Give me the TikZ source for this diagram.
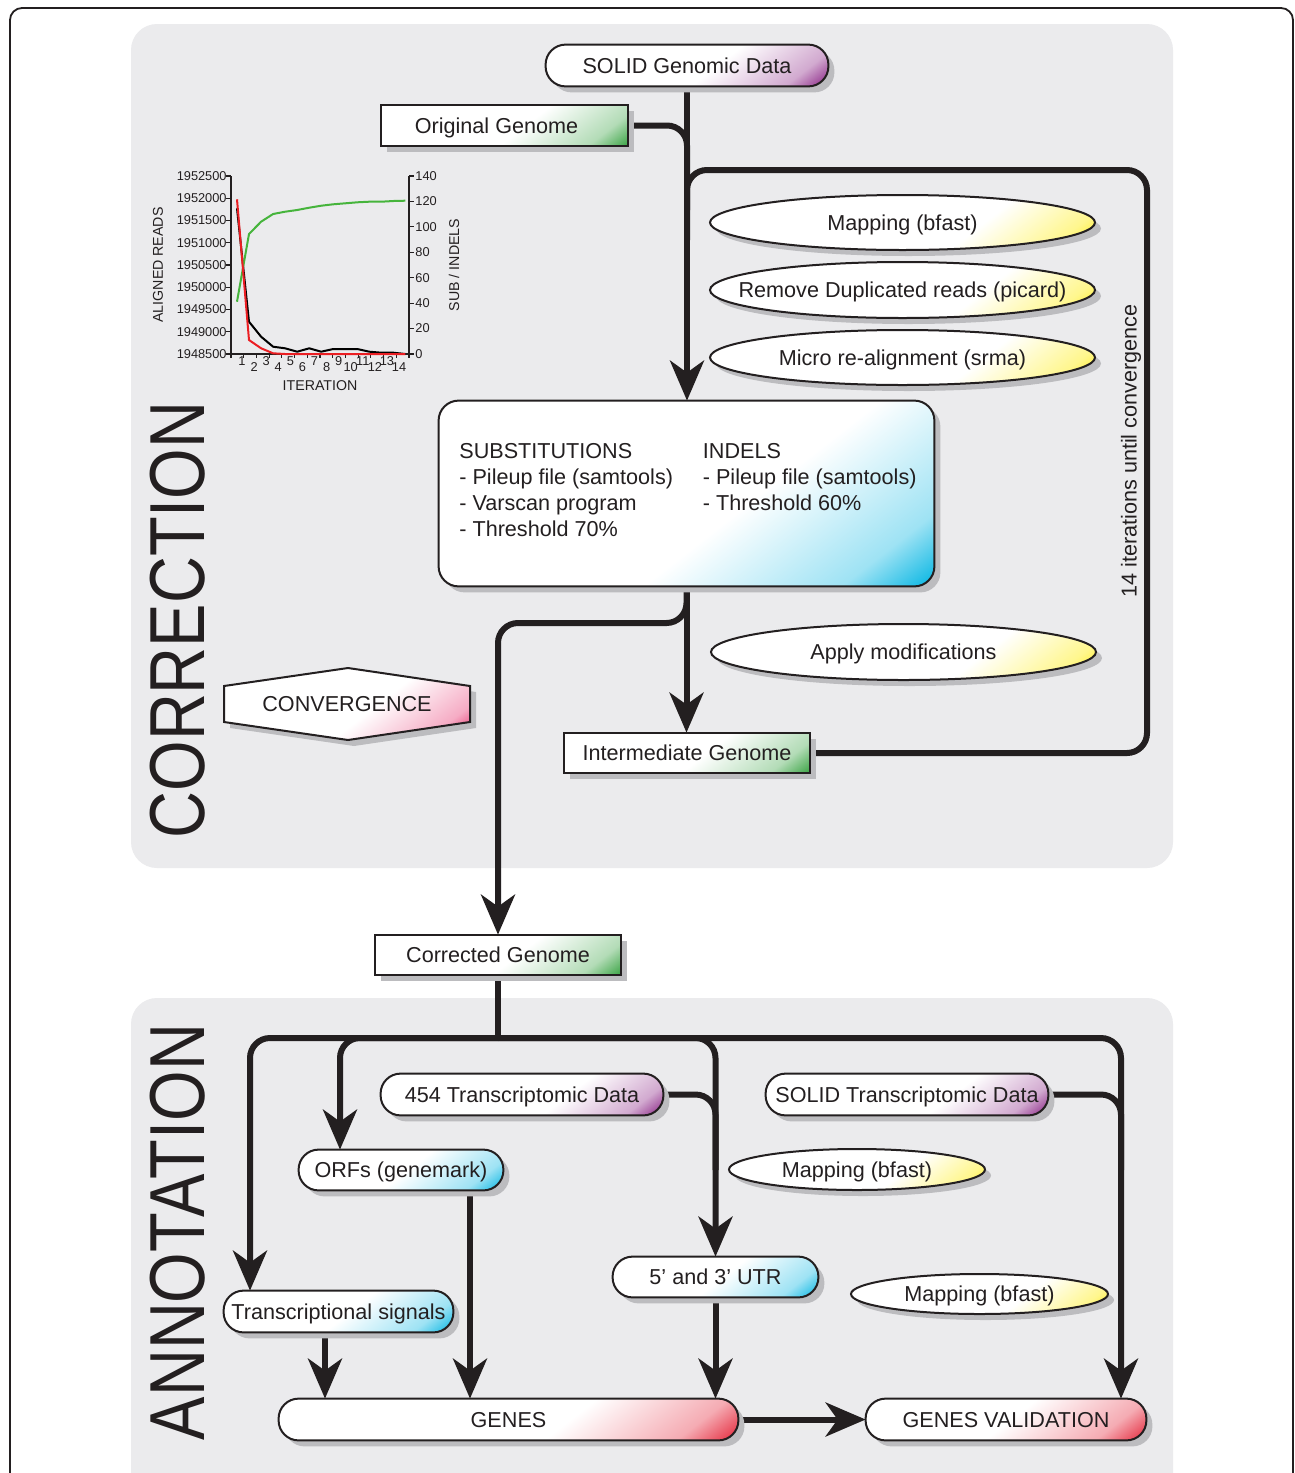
\documentclass[tikz,border=0pt]{standalone}
\usepackage{fontspec}
\setmainfont{Liberation Sans}
\usetikzlibrary{shapes.geometric,shadows,arrows.meta,calc}
\pgfdeclarelayer{back}
\pgfdeclarelayer{mid}
\pgfdeclarelayer{shapes}
\pgfsetlayers{back,mid,shapes,main}

\definecolor{panel}{RGB}{235,235,237}
\definecolor{ink}{RGB}{35,31,32}
\definecolor{shadowc}{RGB}{188,188,191}
\definecolor{cPurple}{RGB}{135,30,130}
\definecolor{cGreen}{RGB}{55,162,65}
\definecolor{cCyan}{RGB}{0,180,226}
\definecolor{cYellow}{RGB}{255,236,0}
\definecolor{cPink}{RGB}{230,35,100}
\definecolor{cRed}{RGB}{228,35,55}
\definecolor{cLineRed}{RGB}{235,30,35}
\definecolor{cLineGreen}{RGB}{70,180,60}

\pgfdeclarehorizontalshading{fadePurple}{100bp}{color(0bp)=(white); color(37.5bp)=(white); color(46bp)=(cPurple!38!white); color(50bp)=(cPurple); color(100bp)=(cPurple)}
\pgfdeclarehorizontalshading{fadeGreen}{100bp}{color(0bp)=(white); color(37.5bp)=(white); color(46bp)=(cGreen!38!white); color(50bp)=(cGreen); color(100bp)=(cGreen)}
\pgfdeclarehorizontalshading{fadeCyan}{100bp}{color(0bp)=(white); color(37.5bp)=(white); color(46bp)=(cCyan!38!white); color(50bp)=(cCyan); color(100bp)=(cCyan)}
\pgfdeclarehorizontalshading{fadeYellow}{100bp}{color(0bp)=(white); color(37.5bp)=(white); color(46bp)=(cYellow!45!white); color(50bp)=(cYellow); color(100bp)=(cYellow)}
\pgfdeclarehorizontalshading{fadePink}{100bp}{color(0bp)=(white); color(37.5bp)=(white); color(46bp)=(cPink!38!white); color(50bp)=(cPink); color(100bp)=(cPink)}
\pgfdeclarehorizontalshading{fadeRed}{100bp}{color(0bp)=(white); color(37.5bp)=(white); color(46bp)=(cRed!38!white); color(50bp)=(cRed); color(100bp)=(cRed)}

\newcommand\mainfs{\fontsize{10.8}{13.2}\selectfont}
\newcommand\chartfs{\fontsize{6.4}{7.5}\selectfont}
\newcommand\charttitlefs{\fontsize{7.1}{8.5}\selectfont}
\newcommand\bigtitlefs{\fontsize{32.5}{38}\selectfont}

\tikzset{
  shad/.style={drop shadow={shadow xshift=3pt, shadow yshift=-3pt, fill=shadowc, opacity=1}},
  gfill/.style 2 args={path picture={
      \begin{scope}[transform canvas={shift={(path picture bounding box.south east)}, rotate=-52}]
        \shade[shading=#1] ({-2*#2},{-2*#2}) rectangle ({2*#2},{2*#2});
      \end{scope}}},
  shp/.style={draw=ink, fill=white, line width=1pt, shad},
  nd/.style={inner sep=0pt, text=ink, font=\mainfs, text height=7.75pt, text depth=0pt},
  pill/.style={nd, rectangle, minimum height=20.5pt},
  box/.style={nd, rectangle, minimum height=20.5pt},
  oval/.style={nd, ellipse},
  conn/.style={draw=ink, line width=3pt, rounded corners=10pt},
  arr/.style={-{Stealth[length=20pt,width=17pt,inset=6pt]}},
  lbl/.style={text=ink, inner sep=0pt},
}

\begin{document}
\begin{tikzpicture}[x=0.5pt, y=-0.5pt]
\useasboundingbox (0,0) rectangle (1295,1473);

% ---------- background ----------
\begin{pgfonlayer}{back}
  \fill[white] (0,0) rectangle (1295,1473);
  \draw[ink, line width=0.9pt, rounded corners=6pt] (10,8) rectangle (1293,1530);
  \fill[panel, rounded corners=13pt] (131,24) rectangle (1173,868);
  \fill[panel, rounded corners=13pt] (131,998) rectangle (1173,1530);
\end{pgfonlayer}

% ---------- section titles ----------
\node[lbl, font=\bigtitlefs, rotate=90] (tcorr) at (177.5,620) {\scalebox{1}[1.2]{CORRECTION}};
\node[lbl, font=\bigtitlefs, rotate=90] (tanno) at (177.5,1232) {\scalebox{1}[1.2]{ANNOTATION}};

% ---------- chart ----------
\begin{scope}[line join=round]
  \draw[ink, line width=0.6pt] (231,176) -- (231,354) -- (409,354) -- (409,176);
  \foreach \k in {0,...,8} \draw[ink, line width=0.6pt] (226,{176+22.25*\k}) -- (231,{176+22.25*\k});
  \foreach \k in {0,...,7} \draw[ink, line width=0.6pt] (409,{176+25.43*\k}) -- (414,{176+25.43*\k});
  \foreach \k in {0,...,14} \draw[ink, line width=0.6pt] ({231+12.71*\k},354) -- ({231+12.71*\k},358);
  \foreach \v [count=\k from 0] in {1952500,1952000,1951500,1951000,1950500,1950000,1949500,1949000,1948500}
    \node[lbl, font=\chartfs, anchor=east, name=yl\k] at (227,{176+22.25*\k}) {\v};
  \foreach \v [count=\k from 0] in {140,120,100,80,60,40,20,0}
    \node[lbl, font=\chartfs, anchor=west, name=yr\k] at (415,{176+25.43*\k}) {\v};
  \foreach \n in {1,...,14} {
    \pgfmathsetmacro\yy{mod(\n,2)==1 ? 361 : 367}
    \node[lbl, font=\chartfs, name=xl\n] at ({242+12.08*(\n-1)},\yy) {\n};
  }
  \node[lbl, font=\charttitlefs, rotate=90] (ylab) at (158,265) {ALIGNED READS};
  \node[lbl, font=\charttitlefs, rotate=90] (yrlab) at (454,265) {SUB / INDELS};
  \node[lbl, font=\charttitlefs] (xlab) at (320,386) {ITERATION};
  \draw[black, line width=1pt] (237,208.3) -- (249,321.7) -- (261.1,336.7) -- (273.1,346.7) -- (285.1,348.3) -- (297.2,351.7) -- (309.2,348.3) -- (321.2,351.7) -- (333.2,349) -- (345.3,349) -- (357.3,349) -- (369.3,351.7) -- (381.4,352.7) -- (393.4,352.7) -- (405.4,354);
  \draw[cLineGreen, line width=1pt] (237,301.7) -- (249,234) -- (261.1,221.7) -- (273.1,214) -- (285.1,211.7) -- (297.2,210) -- (309.2,207.7) -- (321.2,205.7) -- (333.2,204.3) -- (345.3,203.3) -- (357.3,202.3) -- (369.3,201.7) -- (381.4,201.7) -- (393.4,201) -- (405.4,200.7);
  \draw[cLineRed, line width=1pt] (237,199.3) -- (249,340) -- (261.1,348.3) -- (273.1,353.3) -- (285.1,354) -- (405.4,354);
\end{scope}

% ---------- correction nodes (text + anchors) ----------
\node[pill, minimum width=141pt] (sgd) at (687,65.5) {\makebox[0pt]{SOLID Genomic Data}};
\node[box, minimum width=123.5pt] (og) at (504.5,125.5) {\makebox[0pt]{Original Genome\hspace{8pt}}};
\node[oval, minimum width=192.5pt, minimum height=27.5pt] (map1) at (902.5,222.5) {\makebox[0pt]{Mapping (bfast)}};
\node[oval, minimum width=192.5pt, minimum height=28pt] (rmdup) at (902.5,290) {\makebox[0pt]{Remove Duplicated reads (picard)}};
\node[oval, minimum width=192.5pt, minimum height=27.5pt] (srma) at (902.5,357.5) {\makebox[0pt]{Micro re-alignment (srma)}};
\node[nd, rectangle, minimum width=247.5pt, minimum height=92.5pt] (corr) at (686.5,493.5) {};
\node[lbl, font=\mainfs, anchor=base west] (subs) at (459,458)
  {\vtop{\baselineskip=13.15pt\hbox{SUBSTITUTIONS}\hbox{- Pileup file (samtools)}\hbox{- Varscan program}\hbox{- Threshold 70\%}}};
\node[lbl, font=\mainfs, anchor=base west] (indels) at (702.5,458)
  {\vtop{\baselineskip=13.15pt\hbox{INDELS}\hbox{- Pileup file (samtools)}\hbox{- Threshold 60\%}}};
\node[oval, minimum width=192.5pt, minimum height=28pt] (apply) at (903.5,652) {\makebox[0pt]{Apply modifications}};
\node[box, minimum width=123pt, minimum height=20pt] (ig) at (687,753) {\makebox[0pt]{Intermediate Genome}};
\node[lbl, font=\mainfs, rotate=90] (iter) at (1131,451) {14 iterations until convergence};
\coordinate (convc) at (347,704);
\node[lbl, font=\mainfs] (conv) at (convc) {CONVERGENCE};
\node[box, minimum width=123pt, minimum height=20pt] (cg) at (498,955) {\makebox[0pt]{Corrected Genome}};

% ---------- annotation nodes ----------
\node[pill, minimum width=141pt] (t454) at (522,1094.5) {\makebox[0pt]{454 Transcriptomic Data}};
\node[pill, minimum width=141pt] (st) at (907,1094.5) {\makebox[0pt]{SOLID Transcriptomic Data}};
\node[pill, minimum width=102pt, minimum height=20pt] (orfs) at (401,1170) {\makebox[0pt]{ORFs (genemark)}};
\node[oval, minimum width=128pt, minimum height=20.5pt] (map2) at (857,1169.5) {\makebox[0pt]{Mapping (bfast)}};
\node[pill, minimum width=102.5pt, minimum height=20pt] (utr) at (715.5,1277) {\makebox[0pt]{5’ and 3’ UTR}};
\node[oval, minimum width=128.5pt, minimum height=20pt] (map3) at (979.5,1294) {\makebox[0pt]{Mapping (bfast)}};
\node[pill, minimum width=114.5pt] (ts) at (338.5,1311.5) {\makebox[0pt]{Transcriptional signals}};
\node[pill, minimum width=229.5pt] (genes) at (508.5,1419.5) {\makebox[0pt]{GENES}};
\node[pill, minimum width=140pt] (gv) at (1006,1419.5) {\makebox[0pt]{GENES VALIDATION}};

% ---------- node shapes (filled, shaded, shadowed) ----------
\begin{pgfonlayer}{shapes}
  \path[shp, rounded corners=10pt, gfill={fadePurple}{85}] (sgd.south west) rectangle (sgd.north east);
  \path[shp, gfill={fadeGreen}{80}] (og.south west) rectangle (og.north east);
  \path[shp, gfill={fadeYellow}{90}] (map1.center) ellipse [x radius=96.25pt, y radius=13.75pt];
  \path[shp, gfill={fadeYellow}{90}] (rmdup.center) ellipse [x radius=96.25pt, y radius=14pt];
  \path[shp, gfill={fadeYellow}{90}] (srma.center) ellipse [x radius=96.25pt, y radius=13.75pt];
  \path[shp, rounded corners=10pt, gfill={fadeCyan}{180}] (corr.south west) rectangle (corr.north east);
  \path[shp, gfill={fadeYellow}{90}] (apply.center) ellipse [x radius=96.25pt, y radius=14pt];
  \path[shp, gfill={fadeGreen}{80}] (ig.south west) rectangle (ig.north east);
  \path[shp, gfill={fadePink}{85}]
    ($(convc)+(-123,-18)$) -- ($(convc)+(1,-36)$) -- ($(convc)+(123,-18)$) --
    ($(convc)+(123,18)$) -- ($(convc)+(1,36)$) -- ($(convc)+(-123,18)$) -- cycle;
  \path[shp, gfill={fadeGreen}{80}] (cg.south west) rectangle (cg.north east);

  \path[shp, rounded corners=10pt, gfill={fadePurple}{75}] (t454.south west) rectangle (t454.north east);
  \path[shp, rounded corners=10pt, gfill={fadePurple}{75}] (st.south west) rectangle (st.north east);
  \path[shp, rounded corners=10pt, gfill={fadeCyan}{75}] (orfs.south west) rectangle (orfs.north east);
  \path[shp, gfill={fadeYellow}{65}] (map2.center) ellipse [x radius=64pt, y radius=10.25pt];
  \path[shp, rounded corners=10pt, gfill={fadeCyan}{75}] (utr.south west) rectangle (utr.north east);
  \path[shp, gfill={fadeYellow}{65}] (map3.center) ellipse [x radius=64.25pt, y radius=10pt];
  \path[shp, rounded corners=10pt, gfill={fadeCyan}{80}] (ts.south west) rectangle (ts.north east);
  \path[shp, rounded corners=10pt, gfill={fadeRed}{120}] (genes.south west) rectangle (genes.north east);
  \path[shp, rounded corners=10pt, gfill={fadeRed}{100}] (gv.south west) rectangle (gv.north east);
\end{pgfonlayer}

% ---------- connectors ----------
\coordinate (j1) at (687,210);
\coordinate (j2) at (687,240);
\coordinate (loopBR) at (1147,753);
\coordinate (loopTR) at (1147,170);
\coordinate (brc) at (498,623);
\coordinate (hj) at (498,1038);
\coordinate (colTS) at (250,1038);
\coordinate (colORF) at (340,1038);
\coordinate (colGV) at (1121,1038);
\coordinate (j454) at (715.5,1170);
\coordinate (jst) at (1121,1170);
\coordinate (xts) at (325,1360);
\coordinate (xorf) at (470,1300);

\begin{pgfonlayer}{mid}
  \draw[conn, arr] (sgd.south) -- (sgd.south |- corr.north);
  \draw[conn] (og.east) -| (j1);
  \draw[conn] (ig.east) -- (loopBR) -- (loopTR) -| (j2);
  \draw[conn, arr] (corr.south) -- (corr.south |- ig.north);
  \draw[conn, arr] (corr.south) |- (brc) -- (cg.north);

  \draw[conn] (cg.south) -- (hj);
  \draw[conn, arr] (hj) -| (colTS |- ts.north);
  \draw[conn, arr] (hj) -| (colORF |- orfs.north);
  \draw[conn, arr] (hj) -| (utr.north);
  \draw[conn, arr] (hj) -| (colGV |- gv.north);
  \draw[conn] (t454.east) -| (j454);
  \draw[conn] (st.east) -| (jst);

  \draw[conn, arr] (xts |- ts.south) -- (xts |- genes.north);
  \draw[conn, arr] (xorf |- orfs.south) -- (xorf |- genes.north);
  \draw[conn, arr] (utr.south) -- (utr.south |- genes.north);
  \draw[conn, arr] (genes.east) -- (gv.west);
\end{pgfonlayer}
\end{tikzpicture}
\end{document}
